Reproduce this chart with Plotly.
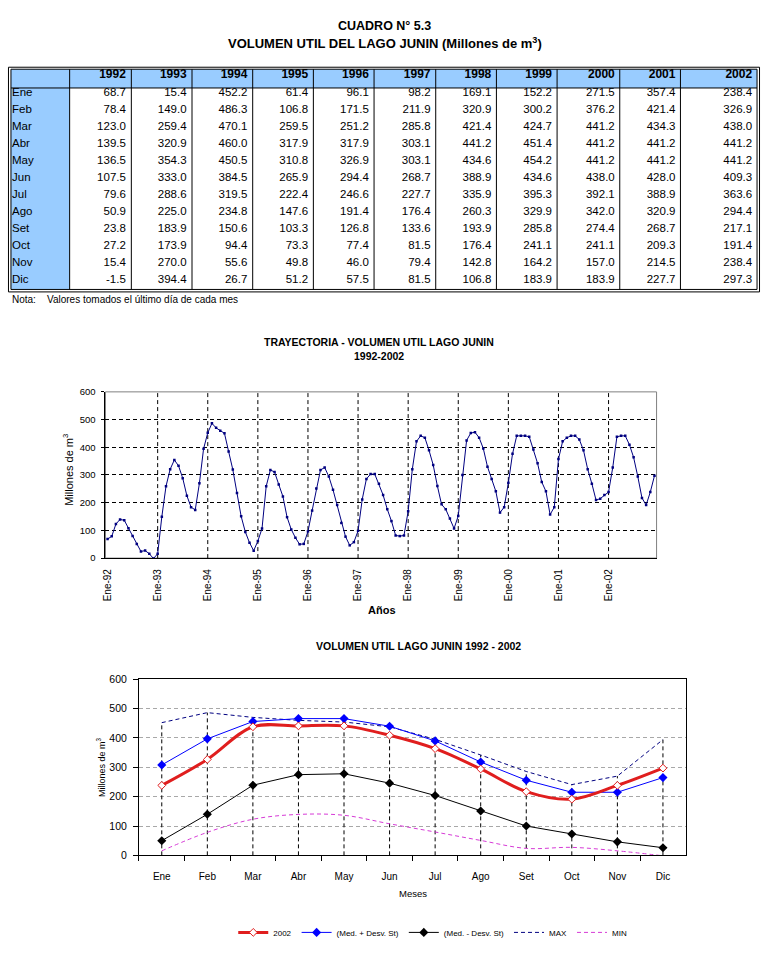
import plotly.graph_objects as go

W, H = 765, 970
FONT = "Liberation Sans, Arial, sans-serif"

months = ["Ene", "Feb", "Mar", "Abr", "May", "Jun", "Jul", "Ago", "Set", "Oct", "Nov", "Dic"]
years = [1992, 1993, 1994, 1995, 1996, 1997, 1998, 1999, 2000, 2001, 2002]

v1992 = [68.7, 78.4, 123.0, 139.5, 136.5, 107.5, 79.6, 50.9, 23.8, 27.2, 15.4, -1.5]
v1993 = [15.4, 149.0, 259.4, 320.9, 354.3, 333.0, 288.6, 225.0, 183.9, 173.9, 270.0, 394.4]
v1994 = [452.2, 486.3, 470.1, 460.0, 450.5, 384.5, 319.5, 234.8, 150.6, 94.4, 55.6, 26.7]
v1995 = [61.4, 106.8, 259.5, 317.9, 310.8, 265.9, 222.4, 147.6, 103.3, 73.3, 49.8, 51.2]
v1996 = [96.1, 171.5, 251.2, 317.9, 326.9, 294.4, 246.6, 191.4, 126.8, 77.4, 46.0, 57.5]
v1997 = [98.2, 211.9, 285.8, 303.1, 303.1, 268.7, 227.7, 176.4, 133.6, 81.5, 79.4, 81.5]
v1998 = [169.1, 320.9, 421.4, 441.2, 434.6, 388.9, 335.9, 260.3, 193.9, 176.4, 142.8, 106.8]
v1999 = [152.2, 300.2, 424.7, 451.4, 454.2, 434.6, 395.3, 329.9, 285.8, 241.1, 164.2, 183.9]
v2000 = [271.5, 376.2, 441.2, 441.2, 441.2, 438.0, 392.1, 342.0, 274.4, 241.1, 157.0, 183.9]
v2001 = [357.4, 421.4, 434.3, 441.2, 441.2, 428.0, 388.9, 320.9, 268.7, 209.3, 214.5, 227.7]
v2002 = [238.4, 326.9, 438.0, 441.2, 441.2, 409.3, 363.6, 294.4, 217.1, 191.4, 238.4, 297.3]

# second chart series
med_plus = [308, 397, 456, 466, 466, 440, 390, 318, 256, 215, 215, 265]
med_minus = [50, 140, 239, 275, 278, 246, 204, 151, 100, 73, 46, 26]
max_vals = [452.2, 486.3, 470.1, 460.0, 454.2, 438.0, 395.3, 342.0, 285.8, 241.1, 270.0, 394.4]
min_vals = [15.4, 78.4, 123.0, 139.5, 136.5, 107.5, 79.6, 50.9, 23.8, 27.2, 15.4, -1.5]

columns = [v1992, v1993, v1994, v1995, v1996, v1997, v1998, v1999, v2000, v2001, v2002]


def px(x):
    return x / W


def py(y):
    return 1 - y / H


fig = go.Figure()

# ---------------- table ----------------
BLUE = "#99CCFF"
col_edges = [7, 66, 128, 189, 250, 311, 372, 434, 495, 556, 619, 680, 757]
t_top, hdr_h, row_h = 64, 19, 17
t_bot = t_top + hdr_h + 12 * row_h
txt_dy = -8.5  # vertical offset of table text
PAD = 8

fig.add_trace(go.Table(
    domain=dict(x=[px(col_edges[0] - PAD + 1), px(col_edges[1])],
                y=[py(t_top + txt_dy + 240), py(t_top + txt_dy)]),
    header=dict(values=[" "], height=hdr_h, fill_color="rgba(0,0,0,0)",
                line_color="rgba(0,0,0,0)", font=dict(family=FONT, size=12, color="black")),
    cells=dict(values=[months], height=row_h, fill_color="rgba(0,0,0,0)",
               line_color="rgba(0,0,0,0)", align="left",
               font=dict(family=FONT, size=11.5, color="black")),
))
widths = [col_edges[i + 1] - col_edges[i] for i in range(1, 12)]
fig.add_trace(go.Table(
    domain=dict(x=[px(col_edges[1] + PAD - 5.5), px(col_edges[-1] + PAD - 4)],
                y=[py(t_top + txt_dy + 240), py(t_top + txt_dy)]),
    columnwidth=widths,
    header=dict(values=[str(y) for y in years], height=hdr_h, align="right",
                fill_color="rgba(0,0,0,0)", line_color="rgba(0,0,0,0)",
                font=dict(family=FONT, size=12, color="black", weight="bold")),
    cells=dict(values=columns, height=row_h, align="right", format=[".1f"] * 11,
               fill_color="rgba(0,0,0,0)", line_color="rgba(0,0,0,0)",
               font=dict(family=FONT, size=11.5, color="black")),
))

shapes = []
shapes.append(dict(type="rect", xref="paper", yref="paper", x0=px(col_edges[0]), x1=px(col_edges[-1]),
                   y0=py(t_top), y1=py(t_top + hdr_h), fillcolor=BLUE, line_width=0, layer="below"))
shapes.append(dict(type="rect", xref="paper", yref="paper", x0=px(col_edges[0]), x1=px(col_edges[1]),
                   y0=py(t_top + hdr_h), y1=py(t_bot), fillcolor=BLUE, line_width=0, layer="below"))
shapes.append(dict(type="line", xref="paper", yref="paper", x0=px(col_edges[0]), x1=px(col_edges[-1]),
                   y0=py(t_top + hdr_h), y1=py(t_top + hdr_h), line=dict(color="black", width=1)))
for e in col_edges[1:-1]:
    shapes.append(dict(type="line", xref="paper", yref="paper", x0=px(e), x1=px(e),
                       y0=py(t_top), y1=py(t_bot), line=dict(color="black", width=1)))
shapes.append(dict(type="rect", xref="paper", yref="paper", x0=px(col_edges[0]), x1=px(col_edges[-1]),
                   y0=py(t_top), y1=py(t_bot), line=dict(color="black", width=1)))
shapes.append(dict(type="rect", xref="paper", yref="paper", x0=px(col_edges[0] - 2.5), x1=px(col_edges[-1] + 2.5),
                   y0=py(t_top - 2), y1=py(t_bot + 2.5), line=dict(color="black", width=1)))

# ---------------- chart 1 ----------------
idx = list(range(12 * len(years)))
series = [v for col in columns for v in col]
fig.add_trace(go.Scatter(
    x=idx, y=series, mode="lines+markers", xaxis="x", yaxis="y", showlegend=False,
    line=dict(color="#000080", width=1), marker=dict(symbol="square", size=2.5, color="#000080"),
    hoverinfo="skip",
))
tick_idx = [12 * i for i in range(len(years))]
tick_txt = [f"Ene-{str(y)[2:]}" for y in years]
shapes.append(dict(type="rect", xref="x domain", yref="y domain", x0=0, x1=1, y0=0, y1=1,
                   line=dict(color="#808080", width=1), layer="below"))
for t in tick_idx[1:]:
    shapes.append(dict(type="line", xref="x", yref="y domain", x0=t, x1=t, y0=0, y1=1,
                       line=dict(color="black", width=1, dash="4px,3px"), layer="below"))

# ---------------- chart 2 ----------------
all_series = [v2002, med_plus, med_minus, max_vals, min_vals]
drop_x, drop_y = [], []
for i, m in enumerate(months):
    top = max(s[i] for s in all_series)
    drop_x += [m, m, None]
    drop_y += [0, top, None]
fig.add_trace(go.Scatter(x=drop_x, y=drop_y, mode="lines", xaxis="x2", yaxis="y2", showlegend=False,
                         line=dict(color="black", width=1, dash="4px,3px"), hoverinfo="skip"))
fig.add_trace(go.Scatter(x=months, y=min_vals, name="MIN", mode="lines", xaxis="x2", yaxis="y2",
                         line=dict(color="#D63AD6", width=1, dash="4px,3px", shape="spline"), legendrank=5))
fig.add_trace(go.Scatter(x=months, y=max_vals, name="MAX", mode="lines", xaxis="x2", yaxis="y2",
                         line=dict(color="#000080", width=1, dash="4px,3px"), legendrank=4))
fig.add_trace(go.Scatter(x=months, y=med_minus, name="(Med. - Desv. St)", mode="lines+markers",
                         xaxis="x2", yaxis="y2", line=dict(color="black", width=1),
                         marker=dict(symbol="diamond", size=7, color="black"), legendrank=3))
fig.add_trace(go.Scatter(x=months, y=med_plus, name="(Med. + Desv. St)", mode="lines+markers",
                         xaxis="x2", yaxis="y2", line=dict(color="#0000FF", width=1),
                         marker=dict(symbol="diamond", size=7, color="#0000FF"), legendrank=2))
fig.add_trace(go.Scatter(x=months, y=v2002, name="2002", mode="lines+markers", xaxis="x2", yaxis="y2",
                         line=dict(color="#E01E1E", width=3, shape="spline"),
                         marker=dict(symbol="diamond", size=6, color="white",
                                     line=dict(color="#E01E1E", width=1)), legendrank=1))

# ---------------- annotations ----------------
def ann(text, x, y, size, bold=False, xanchor="center", angle=0):
    return dict(text=f"<b>{text}</b>" if bold else text, x=px(x), y=py(y), xref="paper", yref="paper",
                showarrow=False, xanchor=xanchor, yanchor="middle", textangle=angle,
                font=dict(family=FONT, size=size, color="black"))

annotations = [
    ann("CUADRO N° 5.3", 383, 20, 12.5, True),
    ann("VOLUMEN UTIL DEL LAGO JUNIN (Millones de m<sup>3</sup>)", 383, 37, 13, True),
    ann("Nota:\u00a0\u00a0\u00a0\u00a0Valores tomados el último día de cada mes", 6, 297, 10, xanchor="left"),
    ann("TRAYECTORIA - VOLUMEN UTIL LAGO JUNIN", 377, 340, 10.5, True),
    ann("1992-2002", 377, 354, 10.5, True),
    ann("Millones de m<sup>3</sup>", 65, 470, 11, angle=-90),
    ann("Años", 380, 612, 11, True),
    ann("VOLUMEN UTIL LAGO JUNIN 1992 - 2002", 417, 648, 10.5, True),
    ann("Millones de m<sup>3</sup>", 98, 770, 9, angle=-90),
    ann("Meses", 411, 899, 9.5),
]

fig.update_layout(
    width=W, height=H, margin=dict(l=0, r=0, t=0, b=0),
    paper_bgcolor="white", plot_bgcolor="white",
    font=dict(family=FONT, color="black"),
    shapes=shapes, annotations=annotations,
    showlegend=True,
    legend=dict(orientation="h", x=px(431), xanchor="center", y=py(938), yanchor="middle",
                font=dict(family=FONT, size=8), bgcolor="rgba(0,0,0,0)"),
    xaxis=dict(domain=[px(102), px(656)], anchor="y", range=[-0.5, len(idx) - 0.5],
               tickmode="array", tickvals=tick_idx, ticktext=tick_txt, tickangle=-90,
               showgrid=False, zeroline=False, showline=True, linecolor="black", linewidth=1,
               ticks="", ticklabelstandoff=6, tickfont=dict(size=10)),
    yaxis=dict(domain=[py(559), py(390.7)], anchor="x", range=[0, 600], dtick=100,
               showgrid=True, gridcolor="black", griddash="4px,3px", gridwidth=1,
               zeroline=False, showline=True, linecolor="black", linewidth=1,
               ticks="outside", ticklen=3, tickcolor="black", ticklabelstandoff=4,
               tickfont=dict(size=9.5)),
    xaxis2=dict(domain=[px(135.7), px(685.3)], anchor="y2", type="category",
                categoryorder="array", categoryarray=months, range=[-0.5, 11.5],
                tickson="boundaries", ticks="outside", ticklen=5, tickcolor="black",
                showgrid=False, zeroline=False, showline=True, mirror=True, linecolor="black",
                ticklabelstandoff=12, tickfont=dict(size=10)),
    yaxis2=dict(domain=[py(860), py(681.7)], anchor="x2", range=[0, 600], dtick=100,
                showgrid=True, gridcolor="#A8A8A8", griddash="4px,3px", gridwidth=1,
                zeroline=False, showline=True, mirror=True, linecolor="black",
                ticks="outside", ticklen=5, tickcolor="black", ticklabelstandoff=4,
                tickfont=dict(size=10.5)),
)

fig.write_html("out.html", config={"displayModeBar": False},
               post_script="document.body.style.margin='0px';document.documentElement.style.overflow='hidden';")
